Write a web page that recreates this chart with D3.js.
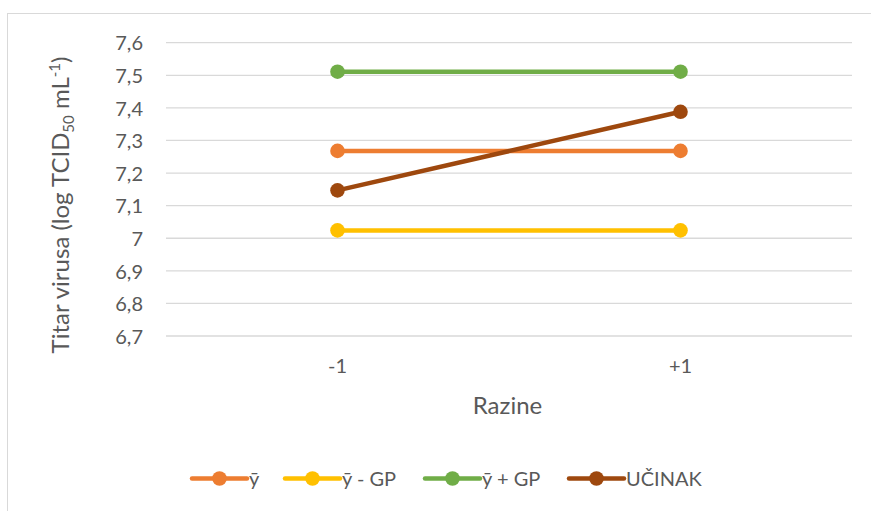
<!DOCTYPE html>
<script src='https://d3js.org/d3.v7.min.js'></script>
<html>
<head>
<style>
  body { margin: 0; background: #fff; }
  text { font-family: Lato, "Open Sans", sans-serif; fill: #595959; }
</style>
</head>
<body>
<div id="my_dataviz"></div>
<script>

// categories (levels) and series values
var levels = ['-1', '+1'];
var seriesNames = ['\u0233', '\u0233 - GP', '\u0233 + GP', 'U\u010CINAK'];
var seriesColors = ['#ED7D31', '#FFC000', '#70AD47', '#9E480E'];
var yMean = [7.268, 7.268];
var yMinusGP = [7.024, 7.024];
var yPlusGP = [7.511, 7.511];
var ucinak = [7.147, 7.388];
var yTicks = [6.7, 6.8, 6.9, 7.0, 7.1, 7.2, 7.3, 7.4, 7.5, 7.6];

var allSeries = [yMean, yMinusGP, yPlusGP, ucinak];

var width = 871, height = 511;
var margin = {top: 42.7, right: 19, bottom: 175, left: 166};

var svg = d3.select("#my_dataviz")
  .append("svg")
    .attr("width", width)
    .attr("height", height);

// chart frame
svg.append("rect")
  .attr("x", 7.5)
  .attr("y", 13.5)
  .attr("width", width)
  .attr("height", height)
  .attr("fill", "none")
  .attr("stroke", "#d9d9d9")
  .attr("stroke-width", 1);

var x = d3.scaleBand().domain(levels).range([margin.left, width - margin.right]);
var y = d3.scaleLinear().domain([6.7, 7.6]).range([336, margin.top]);

// gridlines
svg.append("g")
  .selectAll("line")
  .data(yTicks)
  .enter()
  .append("line")
    .attr("x1", margin.left)
    .attr("x2", width - margin.right)
    .attr("y1", function(d) { return y(d); })
    .attr("y2", function(d) { return y(d); })
    .attr("stroke", "#d9d9d9")
    .attr("stroke-width", 1.3);

// y axis labels
var yAxis = svg.append("g")
  .attr("transform", "translate(" + (margin.left - 23) + ",0)")
  .call(d3.axisLeft(y).tickValues(yTicks).tickSize(0).tickPadding(0)
    .tickFormat(function(d) { return d3.format(".1~f")(d).replace('.', ','); }));
yAxis.select(".domain").remove();
yAxis.selectAll("text")
  .attr("font-size", 20)
  .attr("font-family", null)
  .attr("fill", "#595959")
  .attr("dy", "0.36em");

// x axis labels
var xAxis = svg.append("g")
  .attr("transform", "translate(0,356)")
  .call(d3.axisBottom(x).tickSize(0));
xAxis.select(".domain").remove();
xAxis.selectAll("text")
  .attr("font-size", 20)
  .attr("font-family", null)
  .attr("fill", "#595959");

// axis titles
svg.append("text")
  .attr("text-anchor", "middle")
  .attr("x", 507.5)
  .attr("y", 414)
  .attr("font-size", 24)
  .text("Razine");

var yTitle = svg.append("text")
  .attr("text-anchor", "middle")
  .attr("transform", "translate(69,205) rotate(-90)")
  .attr("font-size", 24);
yTitle.append("tspan").text("Titar virusa (log TCID");
yTitle.append("tspan").attr("font-size", 15).attr("dy", 5).text("50");
yTitle.append("tspan").attr("dy", -5).text(" mL");
yTitle.append("tspan").attr("font-size", 15).attr("dy", -9).text("-1");
yTitle.append("tspan").attr("dy", 9).text(")");

// series lines and markers
var line = d3.line()
  .x(function(d, i) { return x(levels[i]) + x.bandwidth() / 2; })
  .y(function(d) { return y(d); });

allSeries.forEach(function(values, s) {
  svg.append("path")
    .datum(values)
    .attr("d", line)
    .attr("fill", "none")
    .attr("stroke", seriesColors[s])
    .attr("stroke-width", 4.5)
    .attr("stroke-linecap", "round");
  svg.append("g")
    .selectAll("circle")
    .data(values)
    .enter()
    .append("circle")
      .attr("cx", function(d, i) { return x(levels[i]) + x.bandwidth() / 2; })
      .attr("cy", function(d) { return y(d); })
      .attr("r", 7.3)
      .attr("fill", seriesColors[s]);
});

// legend
var legendX = [192, 285, 425, 569];
var legend = svg.append("g");
seriesNames.forEach(function(name, s) {
  var g = legend.append("g").attr("transform", "translate(" + legendX[s] + ",478.5)");
  g.append("line")
    .attr("x1", 0).attr("x2", 55)
    .attr("stroke", seriesColors[s])
    .attr("stroke-width", 4.5)
    .attr("stroke-linecap", "round");
  g.append("circle")
    .attr("cx", 27.5)
    .attr("r", 7.3)
    .attr("fill", seriesColors[s]);
  g.append("text")
    .attr("x", 57)
    .attr("dy", "0.36em")
    .attr("font-size", 20)
    .text(name);
});

</script>
</body>
</html>
